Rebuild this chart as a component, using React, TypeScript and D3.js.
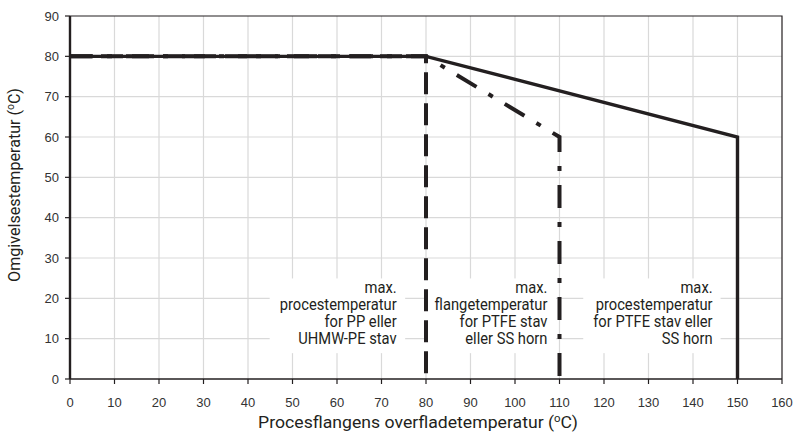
import React, { useEffect, useRef } from "react";
import * as d3 from "d3";

const xTickValues = [0, 10, 20, 30, 40, 50, 60, 70, 80, 90, 100, 110, 120, 130, 140, 150, 160];
const yTickValues = [0, 10, 20, 30, 40, 50, 60, 70, 80, 90];

// PP / UHMW-PE rod (dashed)
const ppX = [0, 80, 80];
const ppY = [80, 80, 0];
// flange temp PTFE rod / SS horn (dash-dot)
const flangeX = [0, 80, 110, 110];
const flangeY = [80, 80, 60, 0];
// process temp PTFE rod / SS horn (solid)
const ptfeX = [0, 80, 150, 150];
const ptfeY = [80, 80, 60, 0];

const label1 = ["max.", "procestemperatur", "for PP eller", "UHMW-PE stav"];
const label2 = ["max.", "flangetemperatur", "for PTFE stav", "eller SS horn"];
const label3 = ["max.", "procestemperatur", "for PTFE stav eller", "SS horn"];

const xTitle = "Procesflangens overfladetemperatur (";
const yTitle = "Omgivelsestemperatur (";

const W = 796;
const H = 433;
const M = { left: 70, right: 14, top: 16, bottom: 54 };
const INK = "#231f20";
const GRID = "#d9d9d9";
const COND = "Roboto, 'Liberation Sans', sans-serif";
const SANS = "'Liberation Sans', Arial, sans-serif";

export default function App() {
  const ref = useRef<SVGSVGElement | null>(null);

  useEffect(() => {
    const svg = d3.select(ref.current);
    svg.selectAll("*").remove();

    const x = d3.scaleLinear().domain([0, 160]).range([M.left, W - M.right]);
    const y = d3.scaleLinear().domain([0, 90]).range([H - M.bottom, M.top]);

    // grid
    const g = svg.append("g");
    g.selectAll("line.vg")
      .data(xTickValues.slice(1, -1))
      .enter()
      .append("line")
      .attr("x1", (d) => x(d))
      .attr("x2", (d) => x(d))
      .attr("y1", y(0))
      .attr("y2", y(90))
      .attr("stroke", GRID)
      .attr("stroke-width", 1.2);
    g.selectAll("line.hg")
      .data(yTickValues.slice(1, -1))
      .enter()
      .append("line")
      .attr("x1", x(0))
      .attr("x2", x(160))
      .attr("y1", (d) => y(d))
      .attr("y2", (d) => y(d))
      .attr("stroke", GRID)
      .attr("stroke-width", 1.2);

    // border top and right
    svg
      .append("path")
      .attr("d", `M${x(0)},${y(90)}H${x(160)}V${y(0)}`)
      .attr("fill", "none")
      .attr("stroke", INK)
      .attr("stroke-width", 1.2);

    // measure condensed scale: "procestemperatur" ~117px wide in reference
    const probe = svg
      .append("text")
      .attr("font-family", COND)
      .attr("font-size", 16)
      .text("procestemperatur");
    const pw = (probe.node() as SVGTextElement).getComputedTextLength() || 130;
    probe.remove();
    const sx = 117 / pw;

    // label backgrounds + text
    const labels = [
      { lines: label1, xv: 73.4 },
      { lines: label2, xv: 107.3 },
      { lines: label3, xv: 144.4 },
    ];
    const baseY = 293;
    const lh = 17;
    labels.forEach((lab) => {
      const lg = svg
        .append("g")
        .attr("transform", `translate(${x(lab.xv)},0) scale(${sx},1)`);
      const rect = lg.append("rect").attr("fill", "#fff");
      const t = lg
        .append("text")
        .attr("font-family", COND)
        .attr("font-size", 16)
        .attr("fill", INK)
        .attr("text-anchor", "end");
      lab.lines.forEach((ln, i) => {
        t.append("tspan")
          .attr("x", 0)
          .attr("y", baseY + i * lh)
          .text(ln);
      });
      const bb = (t.node() as SVGTextElement).getBBox();
      rect
        .attr("x", bb.x - 10 / sx)
        .attr("y", bb.y)
        .attr("width", bb.width + 18 / sx)
        .attr("height", bb.height + 5);
    });

    const line = d3
      .line<[number, number]>()
      .x((d) => x(d[0]))
      .y((d) => y(d[1]));

    const zip = (a: number[], b: number[]) => a.map((v, i) => [v, b[i]] as [number, number]);

    svg
      .append("path")
      .attr("d", line(zip(ptfeX, ptfeY)))
      .attr("fill", "none")
      .attr("stroke", INK)
      .attr("stroke-width", 3.4)
      .attr("stroke-linejoin", "miter");
    svg
      .append("path")
      .attr("d", line(zip(flangeX, flangeY)))
      .attr("fill", "none")
      .attr("stroke", INK)
      .attr("stroke-width", 4)
      .attr("stroke-dasharray", "23,14,5,14");
    svg
      .append("path")
      .attr("d", line(zip(ppX, ppY)))
      .attr("fill", "none")
      .attr("stroke", INK)
      .attr("stroke-width", 4)
      .attr("stroke-dasharray", "22,9");

    // axes
    const xAxis = svg.append("g").attr("transform", `translate(0,${y(0)})`);
    xAxis
      .append("line")
      .attr("x1", x(0))
      .attr("x2", x(160))
      .attr("stroke", INK)
      .attr("stroke-width", 1.6);
    xAxis
      .selectAll("line.t")
      .data(xTickValues)
      .enter()
      .append("line")
      .attr("x1", (d) => x(d))
      .attr("x2", (d) => x(d))
      .attr("y1", 0)
      .attr("y2", 5)
      .attr("stroke", INK)
      .attr("stroke-width", 1.2);
    xAxis
      .selectAll("text")
      .data(xTickValues)
      .enter()
      .append("text")
      .attr("x", (d) => x(d))
      .attr("y", 28)
      .attr("text-anchor", "middle")
      .attr("font-family", SANS)
      .attr("font-size", 13)
      .attr("fill", "#333")
      .text((d) => String(d));

    const yAxis = svg.append("g");
    yAxis
      .append("line")
      .attr("x1", x(0))
      .attr("x2", x(0))
      .attr("y1", y(0))
      .attr("y2", y(90))
      .attr("stroke", INK)
      .attr("stroke-width", 2.4);
    yAxis
      .selectAll("line.t")
      .data(yTickValues)
      .enter()
      .append("line")
      .attr("x1", x(0) - 5)
      .attr("x2", x(0))
      .attr("y1", (d) => y(d))
      .attr("y2", (d) => y(d))
      .attr("stroke", INK)
      .attr("stroke-width", 1.2);
    yAxis
      .selectAll("text")
      .data(yTickValues)
      .enter()
      .append("text")
      .attr("x", x(0) - 11)
      .attr("y", (d) => y(d) + 4.6)
      .attr("text-anchor", "end")
      .attr("font-family", SANS)
      .attr("font-size", 13)
      .attr("fill", "#333")
      .text((d) => String(d));

    // titles
    const makeTitle = (label: string, target: number) => {
      const gg = svg.append("g");
      const inner = gg.append("g");
      const t = inner
        .append("text")
        .attr("x", 0)
        .attr("y", 0)
        .attr("text-anchor", "middle")
        .attr("font-family", COND)
        .attr("font-size", 17)
        .attr("fill", INK);
      t.append("tspan").text(label);
      t.append("tspan").attr("font-size", 11).attr("dy", -6).text("o");
      t.append("tspan").attr("dy", 6).text("C)");
      const w = (t.node() as SVGTextElement).getBBox().width || target;
      inner.attr("transform", `scale(${target / w},1)`);
      return gg;
    };

    makeTitle(xTitle, 320).attr("transform", `translate(418,428)`);
    makeTitle(yTitle, 194).attr("transform", `translate(20,185) rotate(-90)`);
  }, []);

  return (
    <svg
      ref={ref}
      width={W}
      height={H}
      style={{ position: "absolute", left: 0, top: 0, background: "#fff" }}
    />
  );
}
